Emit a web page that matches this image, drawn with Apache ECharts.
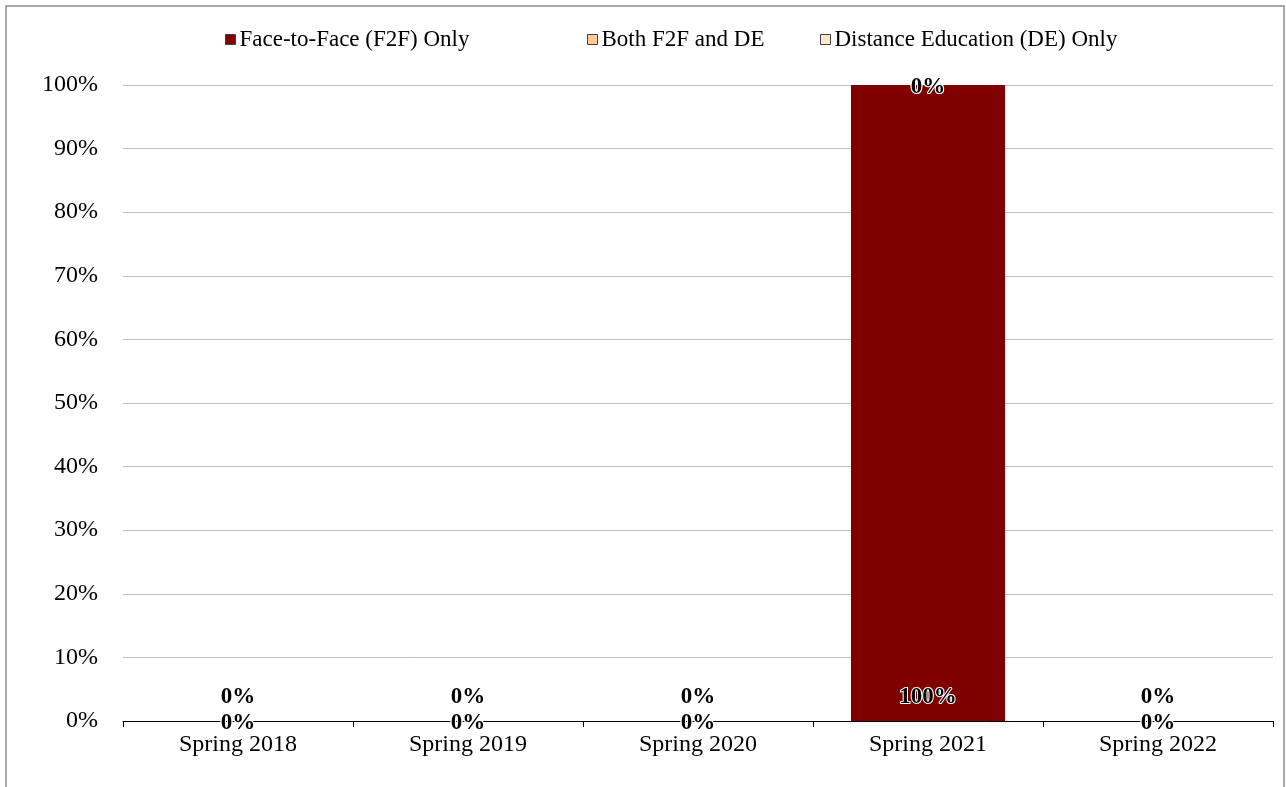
<!DOCTYPE html>
<html>
<head>
<meta charset="utf-8">
<script src="https://cdn.jsdelivr.net/npm/echarts@6/dist/echarts.min.js"></script>
<style>
html,body{margin:0;padding:0;background:#fff;}
#c{width:1286px;height:787px;}
</style>
</head>
<body>
<div id="c"></div>
<script>
const categories = ['Spring 2018', 'Spring 2019', 'Spring 2020', 'Spring 2021', 'Spring 2022'];
const seriesNames = ['Face-to-Face (F2F) Only', 'Both F2F and DE', 'Distance Education (DE) Only'];
const f2fValues = [0, 0, 0, 100, 0];
const bothValues = [0, 0, 0, 0, 0];
const deValues = [0, 0, 0, 0, 0];
const yTicks = [0, 10, 20, 30, 40, 50, 60, 70, 80, 90, 100];

const FONT = '"Liberation Serif", "Times New Roman", serif';
const colors = ['#800000', '#FFCC99', '#FFE6CC'];

const labelBase = {
  show: true,
  formatter: p => p.value + '%',
  fontFamily: FONT,
  fontSize: 23,
  fontWeight: 'bold',
  color: '#000',
  textBorderColor: '#fff',
  textBorderWidth: 2
};

function legendFor(name, left) {
  return {
    data: [name],
    left: left,
    top: 23,
    itemWidth: 10,
    itemHeight: 10,
    itemGap: 0,
    icon: 'rect',
    itemStyle: { borderColor: '#404040', borderWidth: 1 },
    textStyle: { fontFamily: FONT, fontSize: 23, color: '#000', padding: [0, 0, 0, -1] },
    selectedMode: false
  };
}

const chart = echarts.init(document.getElementById('c'));
chart.setOption({
  animation: false,
  backgroundColor: '#fff',
  graphic: [{
    type: 'rect',
    shape: { x: 6, y: 6, width: 1278, height: 900 },
    style: { fill: 'none', stroke: '#8c8c8c', lineWidth: 1.5 },
    silent: true
  }],
  legend: [
    legendFor(seriesNames[0], 220),
    legendFor(seriesNames[1], 582),
    legendFor(seriesNames[2], 815)
  ],
  grid: { left: 123, right: 13, top: 85, bottom: 66, containLabel: false },
  xAxis: {
    type: 'category',
    data: categories,
    axisLine: { lineStyle: { color: '#000', width: 1 } },
    axisTick: { show: true, length: 6, lineStyle: { color: '#000' } },
    axisLabel: { fontFamily: FONT, fontSize: 24, color: '#000', margin: 12 }
  },
  yAxis: {
    type: 'value',
    min: yTicks[0],
    max: yTicks[yTicks.length - 1],
    interval: yTicks[1] - yTicks[0],
    axisLine: { show: false },
    axisTick: { show: false },
    splitLine: { lineStyle: { color: '#c0c0c0', width: 1 } },
    axisLabel: { fontFamily: FONT, fontSize: 24, color: '#000', margin: 25, formatter: '{value}%' }
  },
  series: [
    {
      name: seriesNames[0], type: 'bar', stack: 'total', data: f2fValues,
      barCategoryGap: '33%',
      itemStyle: { color: colors[0], borderWidth: 0 },
      label: Object.assign({}, labelBase, { position: 'insideBottom', distance: 12 })
    },
    {
      name: seriesNames[1], type: 'bar', stack: 'total', data: bothValues,
      itemStyle: { color: colors[1], borderWidth: 0 },
      label: Object.assign({}, labelBase, { position: 'inside', offset: [0, 2] })
    },
    {
      name: seriesNames[2], type: 'bar', stack: 'total', data: deValues,
      itemStyle: { color: colors[2], borderWidth: 0 },
      label: Object.assign({}, labelBase, { position: 'inside', offset: [0, 2] })
    }
  ]
});
</script>
</body>
</html>
